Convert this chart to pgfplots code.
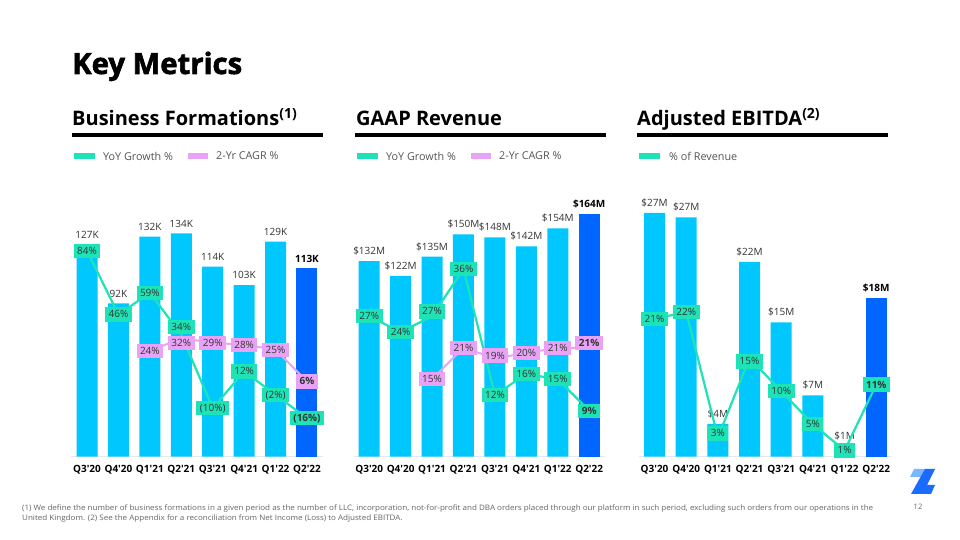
\documentclass[border=0pt]{standalone}
\usepackage{fontspec}
\setmainfont{Open Sans}[Ligatures=TeXOff]
\usepackage{graphicx}
\usepackage{pgfplots}
\pgfplotsset{compat=1.18}
\usepackage{pgfplotstable}

\definecolor{cbar}{HTML}{00C8FF}
\definecolor{dbar}{HTML}{0066FF}
\definecolor{teal2}{HTML}{1DE3B6}
\definecolor{pink2}{HTML}{E8A3F7}
\definecolor{txt}{HTML}{333333}
\definecolor{leg}{HTML}{555555}
\definecolor{fn}{HTML}{666666}
\definecolor{base}{HTML}{E8E8E8}
\definecolor{logoL}{HTML}{7DB5FF}
\definecolor{logoD}{HTML}{1A6BFF}

\newcommand\B[1]{\textbf{#1}}
\newcommand\fs[1]{\fontsize{#1}{#1}\selectfont}
\newsavebox\fnbox

% ---------- Business formations ----------
\pgfplotstableread{
x y lab
0 127 127K
1 92 92K
2 132 132K
3 134 134K
4 114 114K
5 103 103K
6 129 129K
}\barsA
\pgfplotstableread{
x y lab
7 113 \B{113K}
}\barsAlast
\pgfplotstableread{
x y ly lab
0 84 84 84\%
1 46 46 46\%
2 59 59 59\%
3 34 38.7 34\%
4 -10 -10 (10\%)
5 12 12 12\%
6 -2 -2 (2\%)
7 -16 -16 \B{(16\%)}
}\yoyA
\pgfplotstableread{
x y ly lab
2 24 24 24\%
3 32 28.8 32\%
4 29 29 29\%
5 28 28 28\%
6 25 25 25\%
7 6 6 \B{6\%}
}\cagrA

% ---------- GAAP revenue ----------
\pgfplotstableread{
x y lab
0 132 \$132M
1 122 \$122M
2 135 \$135M
3 150 \$150M
4 148 \$148M
5 142 \$142M
6 154 \$154M
}\barsB
\pgfplotstableread{
x y lab
7 164 \B{\$164M}
}\barsBlast
\pgfplotstableread{
x y ly lab
0 27 27 27\%
1 24 24 24\%
2 27 27.9 27\%
3 36 36 36\%
4 12 12 12\%
5 16 16 16\%
6 15 15 15\%
7 9 9 \B{9\%}
}\yoyB
\pgfplotstableread{
x y ly lab
2 15 15 15\%
3 21 21 21\%
4 19 19.5 19\%
5 20 20 20\%
6 21 21 21\%
7 21 21.85 \B{21\%}
}\cagrB

% ---------- Adjusted EBITDA ----------
\pgfplotstableread{
x y lab
0 27.4 \$27M
1 26.9 \$27M
2 3.7 \$4M
3 21.9 \$22M
4 15.1 \$15M
5 6.9 \$7M
6 1.2 \$1M
}\barsC
\pgfplotstableread{
x y lab
7 17.8 \B{\$18M}
}\barsClast
\pgfplotstableread{
x y ly lab
0 21 21 21\%
1 22 22 22\%
2 3 3.6 3\%
3 15 14.5 15\%
4 10 10 10\%
5 5 5 5\%
6 1 1 1\%
7 11 11 \B{11\%}
}\pctC

\pgfplotsset{
  panel/.style={scale only axis, height=250pt, xmin=-0.5, xmax=7.5, clip=false, anchor=south west},
  baraxis/.style={panel, ymin=0,
    axis x line=bottom, axis y line=none,
    x axis line style={-, draw=base, line width=1.6pt},
    xtick={0,...,7},
    xticklabels={Q3'20,Q4'20,Q1'21,Q2'21,Q3'21,Q4'21,Q1'22,Q2'22},
    major tick length=0pt,
    xticklabel style={font=\fs{10}\bfseries, text=black, yshift=-5pt},
    ytick=\empty},
  lineaxis/.style={panel, axis lines=none, xtick=\empty, ytick=\empty},
  bars/.style={ybar, bar width=21pt, bar shift=0pt, draw=none, fill=#1,
    nodes near coords, point meta=explicit symbolic,
    every node near coord/.append style={font=\fs{10}, text=txt, anchor=south, yshift=2.5pt}},
  lbl/.style={draw=none, nodes near coords, point meta=explicit symbolic,
    every node near coord/.append style={anchor=center, fill=#1, inner xsep=3.5pt, inner ysep=3.3pt,
      text height=7.3pt, text depth=0.4pt, font=\fs{10}, text=txt}},
}

\begin{document}%
\sbox\fnbox{\fs{7.5}\color{fn}(1) We define the number of business formations in a given period as the number of LLC, incorporation, not-for-profit and DBA orders placed through our platform in such period, excluding such orders from our operations in the}%
\pgfmathsetmacro\fnscale{851/\the\wd\fnbox}%
\begin{tikzpicture}
\begin{scope}[x=1pt,y=1pt]
\fill[white] (0,0) rectangle (960,540);
\path[use as bounding box] (0,0) rectangle (960,540);
% title
\node[anchor=base west, inner sep=0] at (72,466) {\fs{29.3}\bfseries\addfontfeature{FakeBold=2}Key Metrics};
% headings
\node[anchor=base west, inner sep=0] at (72,414) {\fs{20}\bfseries Business Formations\textsuperscript{(1)}};
\node[anchor=base west, inner sep=0] at (356,414) {\fs{20}\bfseries GAAP Revenue};
\node[anchor=base west, inner sep=0] at (637,414) {\fs{20}\bfseries Adjusted EBITDA\textsuperscript{(2)}};
\draw[line width=3.5pt] (72,405) -- (323,405);
\draw[line width=3.5pt] (355,405) -- (606,405);
\draw[line width=3.5pt] (637,405) -- (888,405);
% legends
\fill[teal2] (74,381) rectangle (95,387);
\node[anchor=west, inner sep=0, text=leg] at (103,384) {\fs{10.8}YoY Growth \%};
\fill[pink2] (188,381) rectangle (208,387);
\node[anchor=west, inner sep=0, text=leg] at (216,384) {\fs{10.8}2-Yr CAGR \%};
\fill[teal2] (357,381) rectangle (378,387);
\node[anchor=west, inner sep=0, text=leg] at (386,384) {\fs{10.8}YoY Growth \%};
\fill[pink2] (471,381) rectangle (491,387);
\node[anchor=west, inner sep=0, text=leg] at (499,384) {\fs{10.8}2-Yr CAGR \%};
\fill[teal2] (639,381) rectangle (660,387);
\node[anchor=west, inner sep=0, text=leg] at (669,384) {\fs{10.8}\% of Revenue};
% footnote
\node[anchor=base west, inner sep=0] at (22,29) {\scalebox{\fnscale}[1]{\usebox\fnbox}};
\node[anchor=base west, inner sep=0] at (22,19) {\scalebox{\fnscale}[1]{\fs{7.5}\color{fn}United Kingdom. (2) See the Appendix for a reconciliation from Net Income (Loss) to Adjusted EBITDA.}};
\node[text=fn, inner sep=0] at (918,33) {\fs{7.5}12};
% logo
\fill[logoL] (914,71) -- (925,71) -- (921,63) -- (910,63) -- cycle;
\fill[logoD] (925,71) -- (935,71) -- (927,55) -- (935,55) -- (931,46) -- (911,46) -- cycle;
\end{scope}

% ===== Panel 1 =====
\begin{axis}[baraxis, at={(71.3pt,83.3pt)}, width=251.4pt, ymax=150]
\addplot[bars=cbar] table[x=x,y=y,meta=lab]{\barsA};
\addplot[bars=dbar, every node near coord/.append style={text=black}] table[x=x,y=y,meta=lab]{\barsAlast};
\end{axis}
\begin{axis}[lineaxis, at={(71.3pt,83.3pt)}, width=251.4pt, ymin=-38.97, ymax=110.46]
\addplot[teal2, line width=2.2pt] table[x=x,y=y]{\yoyA};
\addplot[pink2, line width=2pt] table[x=x,y=y]{\cagrA};
\addplot[lbl=teal2] table[x=x,y=ly,meta=lab]{\yoyA};
\addplot[lbl=pink2] table[x=x,y=ly,meta=lab]{\cagrA};
\end{axis}

% ===== Panel 2 =====
\begin{axis}[baraxis, at={(353.5pt,83.3pt)}, width=251.4pt, ymax=168.7]
\addplot[bars=cbar] table[x=x,y=y,meta=lab]{\barsB};
\addplot[bars=dbar, every node near coord/.append style={text=black}] table[x=x,y=y,meta=lab]{\barsBlast};
\end{axis}
\begin{axis}[lineaxis, at={(353.5pt,83.3pt)}, width=251.4pt, ymin=0.25, ymax=47.87]
\addplot[teal2, line width=2.2pt] table[x=x,y=y]{\yoyB};
\addplot[pink2, line width=2pt] table[x=x,y=y]{\cagrB};
\addplot[lbl=teal2] table[x=x,y=ly,meta=lab]{\yoyB};
\addplot[lbl=pink2] table[x=x,y=ly,meta=lab]{\cagrB};
\end{axis}

% ===== Panel 3 =====
\begin{axis}[baraxis, at={(638.7pt,83.3pt)}, width=253.4pt, ymax=28.09]
\addplot[bars=cbar] table[x=x,y=y,meta=lab]{\barsC};
\addplot[bars=dbar, every node near coord/.append style={text=black}] table[x=x,y=y,meta=lab]{\barsClast};
\end{axis}
\begin{axis}[lineaxis, at={(638.7pt,83.3pt)}, width=253.4pt, ymin=0.06, ymax=38.0]
\addplot[teal2, line width=2.2pt] table[x=x,y=y]{\pctC};
\addplot[lbl=teal2] table[x=x,y=ly,meta=lab]{\pctC};
\end{axis}
\end{tikzpicture}
\end{document}
